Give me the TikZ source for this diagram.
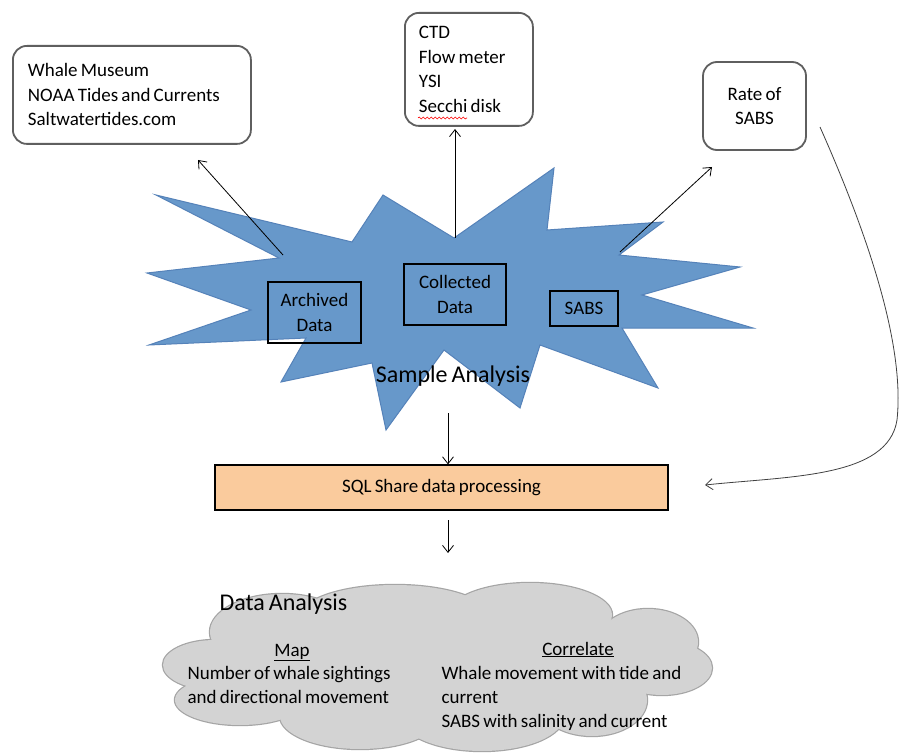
\documentclass[tikz,border=0pt]{standalone}
\usepackage{fontspec}
\setmainfont{Carlito}[WordSpace=0.75]
\usetikzlibrary{arrows.meta,decorations.pathmorphing}
\definecolor{starblue}{RGB}{103,152,202}
\definecolor{staredge}{RGB}{85,130,185}
\definecolor{boxgray}{RGB}{95,95,95}
\definecolor{peach}{RGB}{250,203,157}
\definecolor{cloudgray}{RGB}{211,211,211}
\definecolor{cloudedge}{RGB}{165,165,165}
\tikzset{
  txt/.style={font=\fontsize{19}{24.5}\selectfont},
  bigtxt/.style={font=\fontsize{24}{29}\selectfont},
  roundbox/.style={txt, draw=boxgray, line width=1.8pt, rounded corners=14pt, fill=white},
  inbox/.style={txt, draw=black, line width=1.2pt, align=center, inner sep=0pt},
  conn/.style={line width=0.8pt, -{Straight Barb[length=7pt,width=11pt]}},
  curveconn/.style={line width=0.8pt, draw=black!75, -{Straight Barb[length=7pt,width=11pt]}},
}
\begin{document}
\begin{tikzpicture}[x=1pt,y=-1pt]
\useasboundingbox (0,0) rectangle (900,754);
\fill[white] (0,0) rectangle (900,754);

% star
\draw[fill=starblue, draw=staredge, line width=1pt, line join=miter]
 (156,195) -- (352,242) -- (383,195) -- (454,238) -- (554,168) -- (547,230)
 -- (663,222) -- (619,255) -- (740,267) -- (642,295) -- (753,328) -- (622,328)
 -- (658,388) -- (540,345) -- (520,408) -- (444,350) -- (386,430) -- (372,363)
 -- (281,382) -- (306,338) -- (149,345) -- (251,310) -- (147,273) -- (279,258) -- cycle;

% top boxes
\node[roundbox, anchor=north west, text width=208pt, inner xsep=15pt, minimum height=98pt, align=flush left]
  (whale) at (12,45) {Whale Museum\\NOAA Tides and Currents\\Saltwatertides.com};
\node[roundbox, anchor=north west, text width=100pt, inner xsep=14pt, minimum height=113pt, align=flush left]
  (ctd) at (404,12) {CTD\\Flow meter\\YSI\\Secchi disk};
\node[roundbox, minimum width=103pt, minimum height=88pt, align=center, inner sep=0pt]
  (rate) at (754.5,106) {Rate of\\SABS};
\coordinate (squigA) at (418,118);
\coordinate (squigB) at (467,118);
\draw[red, line width=0.6pt, decorate, decoration={snake, amplitude=1pt, segment length=4pt}] (squigA) -- (squigB);

% inner boxes
\node[inbox, minimum width=93pt, minimum height=61pt] (arch) at (314.5,312.5) {Archived\\Data};
\node[inbox, minimum width=102pt, minimum height=61pt] (coll) at (455,294.5) {Collected\\Data};
\node[inbox, minimum width=68pt, minimum height=35pt] (sabs) at (584,308.5) {SABS};
\node[bigtxt, anchor=base] (sample) at (453,382) {Sample Analysis};

% arrows from star
\coordinate (s1) at (283,255);
\coordinate (t1) at (198,160);
\coordinate (s2) at (455,238);
\coordinate (t2) at (455,129);
\coordinate (s3) at (620,252);
\coordinate (t3) at (712,167);
\draw[conn] (s1) -- (t1);
\draw[conn] (s2) -- (t2);
\draw[conn] (s3) -- (t3);

% SQL box
\node[txt, draw=black, line width=1.2pt, fill=peach, minimum width=453pt, minimum height=45pt, inner sep=0pt]
  (sql) at (441.5,487.5) {SQL Share data processing};
\coordinate (d1s) at (448,413);
\coordinate (d2s) at (448,520);
\coordinate (d2e) at (448,553);
\draw[conn] (d1s) -- (sql.north -| d1s);
\draw[conn] (d2s) -- (d2e);

% curved connector from Rate of SABS
\coordinate (cs) at (820,127);
\coordinate (ce) at (705,485);
\draw[curveconn] (cs) .. controls (868,235) and (905,345) .. (897,420)
  .. controls (888,478) and (790,476) .. (ce);

% cloud
\def\cloudlobes{
  \path (215,665) ellipse (52 and 25);
  \path (282,632) ellipse (72 and 38);
  \path (395,617) ellipse (95 and 32);
  \path (530,615) ellipse (82 and 32);
  \path (648,642) ellipse (50 and 33);
  \path (662,668) ellipse (50 and 27);
  \path (240,700) ellipse (65 and 25);
  \path (360,716) ellipse (80 and 33);
  \path (482,716) ellipse (82 and 35);
  \path (592,700) ellipse (55 and 36);
  \path (440,665) ellipse (230 and 55);
}
\begin{scope}[every path/.style={draw=cloudedge, line width=2.4pt}]
  \cloudlobes
\end{scope}
\begin{scope}[every path/.style={fill=cloudgray}]
  \cloudlobes
\end{scope}

\node[bigtxt, anchor=base west] (da) at (216,610) {Data Analysis};
\node[txt, anchor=base] (map) at (292,656) {\underline{Map}};
\node[txt, anchor=base west] (num) at (184,679) {Number of whale sightings};
\node[txt, anchor=base west] (dir) at (184,703) {and directional movement};
\node[txt, anchor=base] (corr) at (578,655) {\underline{Correlate}};
\node[txt, anchor=base west] (wm) at (438,679) {Whale movement with tide and};
\node[txt, anchor=base west] (cur) at (438,703) {current};
\node[txt, anchor=base west] (sw) at (438,727) {SABS with salinity and current};
\end{tikzpicture}
\end{document}
